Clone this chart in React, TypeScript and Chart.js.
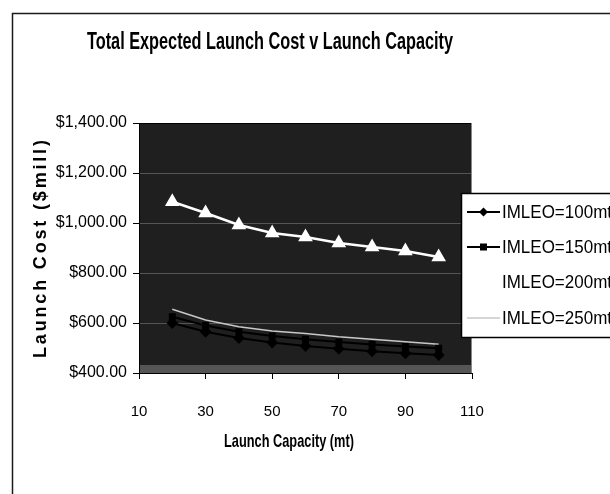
import React, { useEffect, useRef } from "react";
import { Chart, registerables } from "chart.js";
Chart.register(...registerables);

// ---- data ----
const capacity = [20, 30, 40, 50, 60, 70, 80, 90, 100];
const imleo100 = [600, 565, 540, 522, 508, 497, 487, 479, 472];
const imleo150 = [625, 590, 565, 548, 535, 524, 514, 506, 499];
const imleo200 = [1085, 1040, 992, 960, 944, 920, 904, 888, 864];
const imleo250 = [655, 612, 585, 568, 558, 545, 535, 525, 515];
const seriesLabels = ["IMLEO=100mt", "IMLEO=150mt", "IMLEO=200mt", "IMLEO=250mt"];
const xTickValues = [10, 30, 50, 70, 90, 110];
const yTickValues = [400, 600, 800, 1000, 1200, 1400];
const chartTitle = "Total Expected Launch Cost v Launch Capacity";
const xAxisTitle = "Launch Capacity (mt)";
const yAxisTitle = "Launch Cost ($mill)";

const SANS = "'Liberation Sans', Arial, sans-serif";

const toPoints = (ys: number[]) => capacity.map((x, i) => ({ x, y: ys[i] }));

// draw text squeezed horizontally to a target width (mimics a condensed face)
function fillFit(ctx: CanvasRenderingContext2D, text: string, cx: number, cy: number, width: number) {
  const w = ctx.measureText(text).width;
  const sx = width / w;
  ctx.save();
  ctx.translate(cx, cy);
  ctx.scale(sx, 1);
  ctx.textAlign = "center";
  ctx.textBaseline = "middle";
  ctx.fillText(text, 0, 0);
  ctx.restore();
}

function drawMarker(ctx: CanvasRenderingContext2D, style: string, x: number, y: number, r: number, color: string) {
  ctx.save();
  ctx.fillStyle = color;
  ctx.beginPath();
  if (style === "rectRot") {
    ctx.moveTo(x, y - r); ctx.lineTo(x + r, y); ctx.lineTo(x, y + r); ctx.lineTo(x - r, y); ctx.closePath();
  } else if (style === "rect") {
    ctx.rect(x - r, y - r, 2 * r, 2 * r);
  } else if (style === "triangle") {
    ctx.moveTo(x, y - r); ctx.lineTo(x + r, y + r * 0.8); ctx.lineTo(x - r, y + r * 0.8); ctx.closePath();
  }
  ctx.fill();
  ctx.restore();
}

const decorPlugin = {
  id: "decor",
  beforeDraw(chart: any) {
    const { ctx, chartArea: a } = chart;
    ctx.save();
    ctx.fillStyle = "#ffffff";
    ctx.fillRect(0, 0, chart.width, chart.height);
    ctx.strokeStyle = "#1a1a1a";
    ctx.lineWidth = 1.5;
    ctx.strokeRect(12.5, 13.5, 800, 800);
    ctx.fillStyle = "#1f1f1f";
    ctx.fillRect(a.left, a.top, a.right - a.left, a.bottom - a.top);
    ctx.fillStyle = "#555555";
    ctx.fillRect(a.left, a.bottom - 8, a.right - a.left, 8);
    ctx.restore();
  },
  afterDatasetsDraw(chart: any) {
    const { ctx, chartArea: a } = chart;
    ctx.save();
    ctx.strokeStyle = "#000";
    ctx.lineWidth = 1;
    ctx.beginPath();
    ctx.moveTo(a.left, a.top + 0.5);
    ctx.lineTo(a.right, a.top + 0.5);
    ctx.stroke();
    ctx.strokeStyle = "#888";
    ctx.beginPath();
    ctx.moveTo(a.right - 0.5, a.top);
    ctx.lineTo(a.right - 0.5, a.bottom);
    ctx.stroke();
    ctx.restore();
  },
  afterDraw(chart: any) {
    const { ctx } = chart;
    ctx.save();
    ctx.fillStyle = "#000";
    // chart title
    ctx.font = `bold 23px ${SANS}`;
    fillFit(ctx, chartTitle, 270, 43, 366);
    // x axis title
    ctx.font = `bold 19px ${SANS}`;
    fillFit(ctx, xAxisTitle, 289, 442, 130);

    // y axis title (spaced letters)
    ctx.save();
    ctx.translate(41, 249);
    ctx.rotate(-Math.PI / 2);
    ctx.font = `bold 18px ${SANS}`;
    const target = 218;
    (ctx as any).letterSpacing = "0px";
    const w = ctx.measureText(yAxisTitle).width;
    const sp = Math.max(0, (target - w) / (yAxisTitle.length - 1));
    (ctx as any).letterSpacing = `${sp.toFixed(2)}px`;
    ctx.textAlign = "left";
    ctx.textBaseline = "middle";
    ctx.fillText(yAxisTitle, -target / 2, 0);
    ctx.restore();

    // legend
    const bx = 461, by = 193, bh = 144;
    ctx.fillStyle = "#fff";
    ctx.fillRect(bx, by, 300, bh);
    ctx.strokeStyle = "#000";
    ctx.lineWidth = 1.5;
    ctx.strokeRect(bx + 0.5, by + 0.5, 300, bh);
    const rowsY = [212, 247, 282, 318];
    chart.data.datasets.forEach((ds: any, i: number) => {
      const y = rowsY[i];
      ctx.strokeStyle = ds.borderColor;
      ctx.lineWidth = ds.borderWidth;
      ctx.beginPath();
      ctx.moveTo(467, y);
      ctx.lineTo(500, y);
      ctx.stroke();
      if (ds.pointRadius > 0) drawMarker(ctx, ds.pointStyle, 483.5, y, ds.pointRadius, ds.pointBackgroundColor);
      ctx.fillStyle = "#000";
      ctx.font = `18px ${SANS}`;
      fillFit(ctx, ds.label, 502 + 55, y + 1, 110);
    });
    ctx.restore();
  },
};

export default function App() {
  const ref = useRef<HTMLCanvasElement | null>(null);
  useEffect(() => {
    if (!ref.current) return;
    const chart = new Chart(ref.current, {
      type: "line",
      data: {
        datasets: [
          { label: seriesLabels[0], data: toPoints(imleo100), borderColor: "#000", backgroundColor: "#000", pointBackgroundColor: "#000", pointBorderColor: "#000", pointStyle: "rectRot", pointRadius: 4.5, borderWidth: 2 },
          { label: seriesLabels[1], data: toPoints(imleo150), borderColor: "#000", backgroundColor: "#000", pointBackgroundColor: "#000", pointBorderColor: "#000", pointStyle: "rect", pointRadius: 3.5, borderWidth: 2 },
          { label: seriesLabels[2], data: toPoints(imleo200), borderColor: "#ffffff", backgroundColor: "#ffffff", pointBackgroundColor: "#ffffff", pointBorderColor: "#ffffff", pointStyle: "triangle", pointRadius: 6, borderWidth: 2.5 },
          { label: seriesLabels[3], data: toPoints(imleo250), borderColor: "#c8c8c8", backgroundColor: "#c8c8c8", pointBackgroundColor: "#c8c8c8", pointStyle: "circle", pointRadius: 0, borderWidth: 1.5 },
        ] as any,
      },
      options: {
        responsive: false,
        animation: false,
        devicePixelRatio: 1,
        layout: { padding: { left: 0, top: 123, right: 138, bottom: 0 } },
        plugins: { legend: { display: false }, title: { display: false }, tooltip: { enabled: false } },
        elements: { line: { tension: 0 } },
        scales: {
          x: {
            type: "linear",
            min: 10,
            max: 110,
            afterBuildTicks: (s: any) => { s.ticks = xTickValues.map((v) => ({ value: v })); },
            afterFit: (s: any) => { s.height = 121; },
            grid: { drawOnChartArea: false, drawTicks: true, tickLength: 6, tickColor: "#000" },
            border: { display: true, color: "#000", width: 1 },
            ticks: { color: "#000", padding: 24, font: { family: SANS, size: 15 }, maxRotation: 0 },
            title: { display: false },
          },
          y: {
            type: "linear",
            min: 400,
            max: 1400,
            afterBuildTicks: (s: any) => { s.ticks = yTickValues.map((v) => ({ value: v })); },
            afterFit: (s: any) => { s.width = 139; },
            grid: { color: "#555555", tickColor: "#000", drawTicks: true, tickLength: 6 },
            border: { display: true, color: "#000", width: 1 },
            ticks: {
              color: "#000",
              padding: 6,
              font: { family: SANS, size: 16 },
              callback: (v: any) => "$" + Number(v).toLocaleString("en-US", { minimumFractionDigits: 2, maximumFractionDigits: 2 }),
            },
          },
        },
      } as any,
      plugins: [decorPlugin],
    });
    return () => chart.destroy();
  }, []);
  return (
    <div style={{ position: "absolute", left: 0, top: 0, width: 610, height: 494, background: "#fff" }}>
      <canvas ref={ref} width={610} height={494} style={{ display: "block", width: 610, height: 494 }} />
    </div>
  );
}
